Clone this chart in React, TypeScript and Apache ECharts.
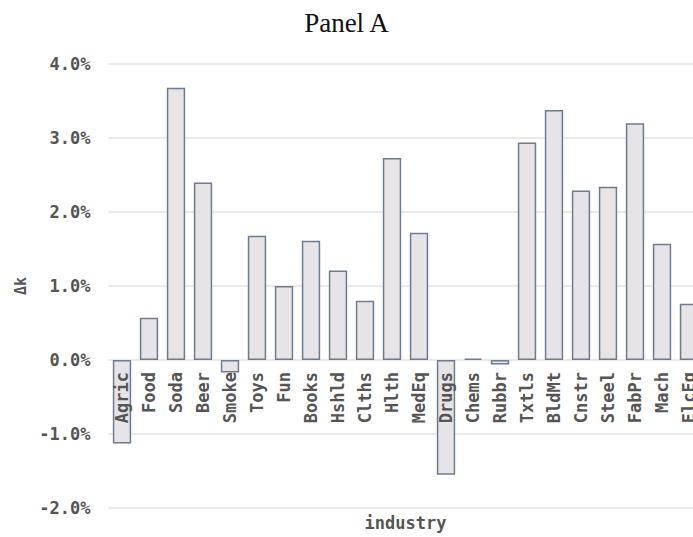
import React, { useEffect, useRef } from "react";
import * as echarts from "echarts";

const categories = [
  "Agric", "Food", "Soda", "Beer", "Smoke", "Toys", "Fun", "Books", "Hshld", "Clths", "Hlth",
  "MedEq", "Drugs", "Chems", "Rubbr", "Txtls", "BldMt", "Cnstr", "Steel", "FabPr", "Mach", "ElcEq",
];
const deltaK = [
  -1.13, 0.57, 3.68, 2.4, -0.17, 1.68, 1.0, 1.61, 1.21, 0.8, 2.73,
  1.72, -1.55, 0.02, -0.06, 2.94, 3.38, 2.29, 2.34, 3.2, 1.57, 0.76,
];
const yMin = -2;
const yMax = 4;
const yStep = 1;

const MONO = "'DejaVu Sans Mono', monospace";

export default function App() {
  const ref = useRef<HTMLDivElement>(null);
  useEffect(() => {
    if (!ref.current) return;
    const chart = echarts.init(ref.current, null, { renderer: "svg" });
    const gridTop = 64;
    const gridBottom = 29;
    const plotH = 537 - gridTop - gridBottom;
    const zeroFromBottom = (plotH * (0 - yMin)) / (yMax - yMin);
    chart.setOption({
      animation: false,
      backgroundColor: "#ffffff",
      title: {
        text: "Panel A",
        left: "center",
        top: 4,
        textStyle: {
          fontFamily: "'Liberation Serif', serif",
          fontWeight: "normal",
          fontSize: 27,
          color: "#111",
        },
      },
      grid: {
        left: 108.5,
        right: -9.5,
        top: gridTop,
        bottom: gridBottom,
        containLabel: false,
        outerBoundsMode: "none",
      },
      xAxis: {
        type: "category",
        data: categories,
        position: "bottom",
        offset: -zeroFromBottom,
        z: 10,
        name: "industry",
        nameLocation: "middle",
        nameGap: 154,
        nameTextStyle: { fontFamily: MONO, fontSize: 17, fontWeight: "bold", color: "#555" },
        axisLine: { show: false, onZero: false },
        axisTick: { show: false },
        axisLabel: {
          rotate: 90,
          interval: 0,
          margin: 12,
          fontFamily: MONO,
          fontSize: 17,
          fontWeight: "bold",
          color: "#555",
        },
      },
      yAxis: {
        type: "value",
        min: yMin,
        max: yMax,
        interval: yStep,
        name: "Δk",
        nameLocation: "middle",
        nameRotate: 90,
        nameGap: 78,
        nameTextStyle: { fontFamily: MONO, fontSize: 15, fontWeight: "bold", color: "#555" },
        axisLine: { show: false },
        axisTick: { show: false },
        splitLine: { lineStyle: { color: "#e2e2e2", width: 1.5 } },
        axisLabel: {
          margin: 18,
          fontFamily: MONO,
          fontSize: 17,
          fontWeight: "bold",
          color: "#555",
          formatter: (v: number) => v.toFixed(1) + "%",
        },
      },
      series: [
        {
          type: "bar",
          data: deltaK,
          z: 2,
          barCategoryGap: "32%",
          itemStyle: { color: "#e6e4e6", borderColor: "#6f7b8e", borderWidth: 1.5 },
        },
      ],
    });
    return () => chart.dispose();
  }, []);
  return (
    <div
      ref={ref}
      style={{ position: "fixed", left: 0, top: 0, width: 693, height: 537, overflow: "hidden" }}
    />
  );
}
